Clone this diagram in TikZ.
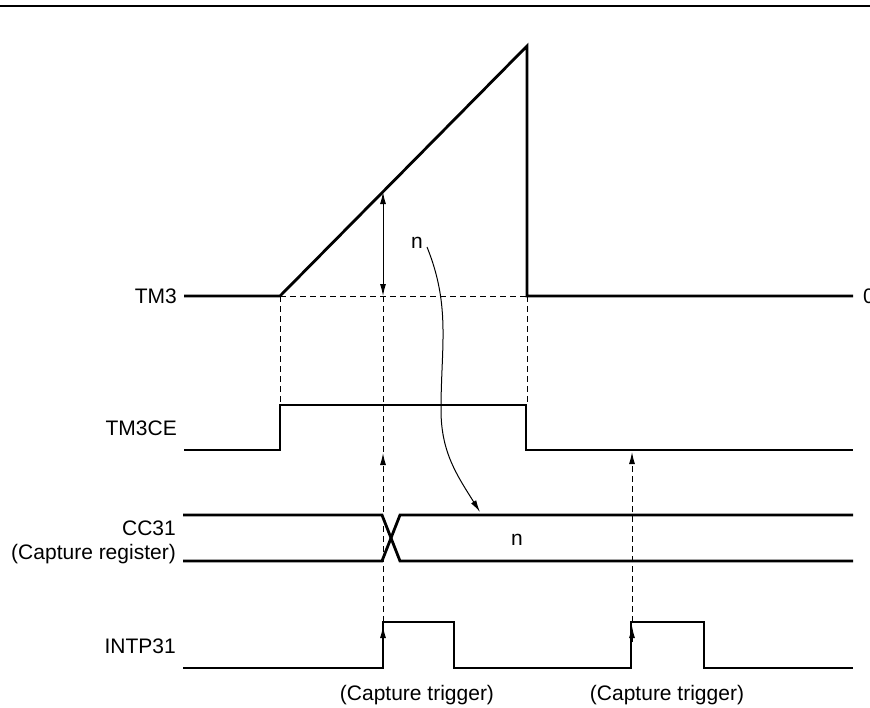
\documentclass[tikz,border=0pt]{standalone}
\usepackage{fontspec}
\setmainfont{Liberation Sans}
\usetikzlibrary{arrows.meta}
\begin{document}
\begin{tikzpicture}[x=1pt,y=-1pt,
  wave/.style={line width=2.8pt, line join=miter},
  guide/.style={line width=1pt, dash pattern=on 6pt off 4pt},
  thinl/.style={line width=1pt},
  tip/.style={-{Latex[length=12pt,width=6pt]}},
  dtip/.style={{Latex[length=12pt,width=6pt]}-{Latex[length=12pt,width=6pt]}},
  lbl/.style={font=\fontsize{21}{25}\selectfont, inner sep=0pt},
]
\useasboundingbox (0,0) rectangle (870,707);
\draw[line width=2.8pt] (0,6) -- (870,6);

% labels
\node[lbl, anchor=east] (tm3) at (177,296) {TM3};
\node[lbl, anchor=east] (tm3ce) at (177,428) {TM3CE};
\node[lbl, anchor=east] (cc31) at (176,528) {CC31};
\node[lbl, anchor=east] (capreg) at (176,554) {(Capture register)};
\node[lbl, anchor=east] (intp) at (176,646) {INTP31};
\node[lbl, anchor=west] (zero) at (863,296) {0};
\node[lbl] (trig1) at (417,695) {(Capture trigger)};
\node[lbl] (trig2) at (667,695) {(Capture trigger)};
\node[lbl] (n1) at (417,243) {n};
\node[lbl] (n2) at (517,540) {n};

% key coordinates
\coordinate (rampS) at (280,296);
\coordinate (peak) at (527,46);
\coordinate (peakB) at (527,296);
\coordinate (cap) at (383,192);
\coordinate (capB) at (383,296);
\coordinate (ceR) at (280,405);
\coordinate (ceF) at (527,405);
\coordinate (t1top) at (383,453);
\coordinate (t1bot) at (383,622);
\coordinate (t2top) at (632,452);
\coordinate (t2bot) at (632,622);
\coordinate (curS) at (427,247);
\coordinate (curM) at (441,410);
\coordinate (curE) at (480,512);

% waveforms
\draw[wave] (184,296) -- (rampS) -- (peak) -- (peakB) -- (853,296);
\draw[wave] (184,450) -- (280,450) -- (ceR) -- (526,405) -- (526,450) -- (853,450);
\draw[wave] (183,515) -- (382,515) -- (400,561) -- (853,561);
\draw[wave] (183,561) -- (382,561) -- (400,515) -- (853,515);
\draw[wave] (183,668) -- (383,668) -- (383,622) -- (454,622) -- (454,668)
  -- (631,668) -- (631,622) -- (704,622) -- (704,668) -- (853,668);

% guides
\draw[guide] (rampS) -- (peakB);
\draw[guide] (rampS) -- (ceR);
\draw[guide] (peakB) -- (ceF);
\draw[guide] (capB) -- (t1top);
\draw[guide, tip] (t1bot) -- (t1top);
\draw[guide, tip] (t2bot) -- (t2top);
\draw[thinl, tip] (383,642) -- (383,626);
\draw[thinl, tip] (632,642) -- (632,626);

% value arrow
\draw[thinl, dtip] (cap) -- (capB);

% n curve
\draw[thinl, tip] (curS) to[out=-68,in=90] (curM) to[out=-90,in=122] (curE);
\end{tikzpicture}
\end{document}
